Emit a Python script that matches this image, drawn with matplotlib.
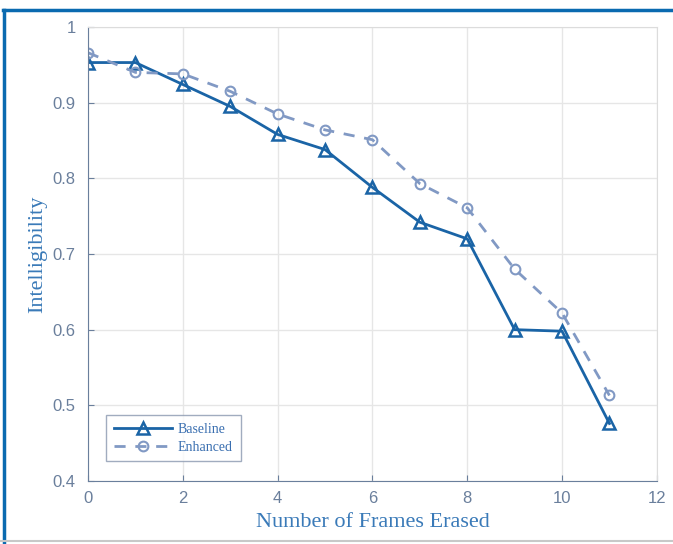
import matplotlib.pyplot as plt
from matplotlib.lines import Line2D

frames = [0, 1, 2, 3, 4, 5, 6, 7, 8, 9, 10, 11]
baseline = [0.953, 0.953, 0.924, 0.895, 0.858, 0.838, 0.788, 0.742, 0.720, 0.600, 0.598, 0.476]
enhanced = [0.966, 0.940, 0.938, 0.915, 0.885, 0.864, 0.851, 0.793, 0.761, 0.680, 0.622, 0.513]

blue = '#1a64a6'
grayblue = '#8199c4'
tickc = '#6a7f9c'

fig = plt.figure(figsize=(6.73, 5.44), dpi=100)
ax = fig.add_axes([0.1308, 0.1158, 0.8452, 0.8346])

ax.plot(frames, baseline, '-', color=blue, lw=2.0, marker='^', ms=8,
        mfc='none', mec=blue, mew=1.8, label='Baseline')
ax.plot(frames, enhanced, '--', color=grayblue, lw=2.0, marker='o', ms=7,
        mfc='none', mec=grayblue, mew=1.5, dashes=(4, 3.5), label='Enhanced')

ax.set_xlim(0, 12)
ax.set_ylim(0.4, 1.0)
ax.set_xticks(range(0, 13, 2))
ax.set_yticks([0.4, 0.5, 0.6, 0.7, 0.8, 0.9, 1.0])
ax.set_yticklabels(['0.4', '0.5', '0.6', '0.7', '0.8', '0.9', '1'])
ax.grid(True, color='#e6e6e6', lw=1.0)
ax.set_axisbelow(True)

for s in ['left', 'bottom']:
    ax.spines[s].set_color(tickc)
for s in ['right', 'top']:
    ax.spines[s].set_color('#dcdcdc')
ax.tick_params(direction='in', length=4, color=tickc, labelcolor=tickc,
               labelsize=12)
ax.tick_params(axis='y', pad=9)
ax.tick_params(axis='x', pad=7)
for lbl in ax.get_xticklabels() + ax.get_yticklabels():
    lbl.set_family('Liberation Sans')

ax.set_xlabel('Number of Frames Erased', family='Liberation Serif',
              fontsize=16, color='#3a7ab8', labelpad=5)
ax.set_ylabel('Intelligibility', family='Liberation Serif',
              fontsize=16, color='#3a7ab8', labelpad=4)

leg = ax.legend(loc='lower left', bbox_to_anchor=(0.02, 0.028),
                prop={'family': 'Liberation Serif', 'size': 10},
                frameon=True, fancybox=False, handlelength=4.2,
                borderpad=0.55, labelspacing=0.35, handletextpad=0.4)
leg.get_frame().set_edgecolor('#8a98b0')
leg.get_frame().set_linewidth(1.0)
for t in leg.get_texts():
    t.set_color('#3a6fb0')

# page frame: blue top and left rule, light bottom rule
fig.add_artist(Line2D([0.006, 0.006], [0.0, 0.982], color='#0a6ab0', lw=2.5,
                      transform=fig.transFigure))
fig.add_artist(Line2D([0.004, 1.0], [0.982, 0.982], color='#0a6ab0', lw=2.5,
                      transform=fig.transFigure))
fig.add_artist(Line2D([0.0, 1.0], [0.005, 0.005], color='#c8c8c8', lw=1.5,
                      transform=fig.transFigure))

fig.savefig('out.png', dpi=100)
